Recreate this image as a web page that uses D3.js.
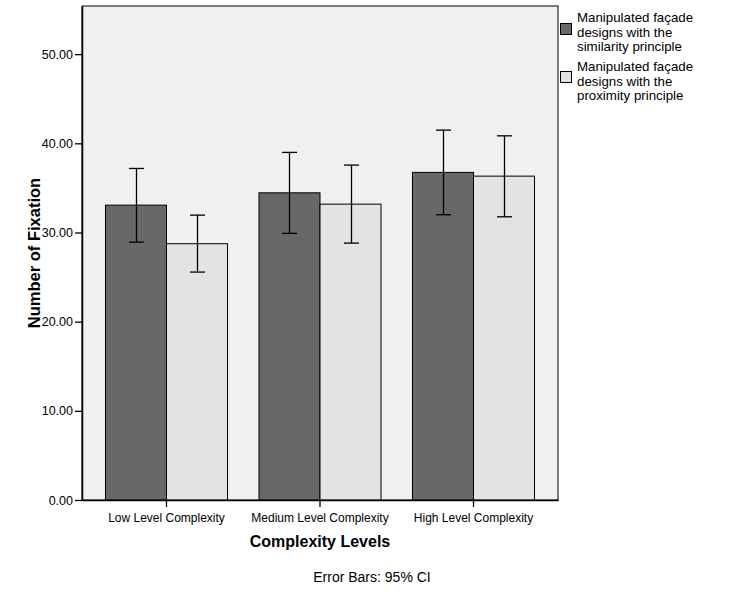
<!DOCTYPE html>
<html>
<head>
<meta charset="utf-8">
<script src="https://cdn.jsdelivr.net/npm/d3@7"></script>
<style>
body{margin:0;background:#fff;}
svg{display:block;font-family:Arial,"Liberation Sans",sans-serif;}
</style>
</head>
<body>
<script>
const categories = ["Low Level Complexity", "Medium Level Complexity", "High Level Complexity"];
const seriesNames = ["Manipulated façade designs with the similarity principle", "Manipulated façade designs with the proximity principle"];
const similarityMeans = [33.07, 34.45, 36.74];
const similarityLow = [28.92, 29.90, 31.99];
const similarityHigh = [37.18, 38.98, 41.48];
const proximityMeans = [28.74, 33.18, 36.32];
const proximityLow = [25.56, 28.81, 31.76];
const proximityHigh = [31.95, 37.56, 40.84];
const yTicks = [0, 10, 20, 30, 40, 50];
const legendLines = [["Manipulated façade", "designs with the", "similarity principle"], ["Manipulated façade", "designs with the", "proximity principle"]];
const colors = ["#686868", "#e3e3e3"];

const W = 746, H = 597;
const svg = d3.select("body").append("svg").attr("width", W).attr("height", H);
const L = 82, R = 558, T = 6, B = 500;

const y = d3.scaleLinear().domain([0, 55.4]).range([B, T]);
const x0 = d3.scaleBand().domain(categories).range([L, R]).paddingInner(0.205).paddingOuter(0.153);
const x1 = d3.scaleBand().domain([0, 1]).range([0, x0.bandwidth()]);

svg.append("rect").attr("x", L).attr("y", T).attr("width", R - L).attr("height", B - T)
  .attr("fill", "#f0f0f0").attr("stroke", "#000").attr("stroke-width", 1);

const series = [
  {mean: similarityMeans, lo: similarityLow, hi: similarityHigh},
  {mean: proximityMeans, lo: proximityLow, hi: proximityHigh}
];

const g = svg.append("g");
series.forEach((s, si) => {
  categories.forEach((c, ci) => {
    const bx = x0(c) + x1(si);
    g.append("rect").attr("x", bx).attr("y", y(s.mean[ci])).attr("width", x1.bandwidth())
      .attr("height", y(0) - y(s.mean[ci])).attr("fill", colors[si]).attr("stroke", "#000").attr("stroke-width", 1);
  });
});
series.forEach((s, si) => {
  categories.forEach((c, ci) => {
    const cx = Math.round(x0(c) + x1(si) + x1.bandwidth() / 2) + 0.5;
    const hw = 7.5;
    const eg = g.append("g").attr("stroke", "#000").attr("stroke-width", 1.3);
    eg.append("line").attr("x1", cx).attr("x2", cx).attr("y1", y(s.lo[ci])).attr("y2", y(s.hi[ci]));
    eg.append("line").attr("x1", cx - hw).attr("x2", cx + hw).attr("y1", y(s.lo[ci])).attr("y2", y(s.lo[ci]));
    eg.append("line").attr("x1", cx - hw).attr("x2", cx + hw).attr("y1", y(s.hi[ci])).attr("y2", y(s.hi[ci]));
  });
});

// Y axis
const yAxis = d3.axisLeft(y).tickValues(yTicks).tickFormat(d3.format(".2f")).tickSize(7).tickSizeOuter(0).tickPadding(2);
const ya = svg.append("g").attr("transform", `translate(${L},0)`).call(yAxis);
ya.select(".domain").attr("stroke", "#000").attr("stroke-width", 1.5);
ya.selectAll(".tick line").attr("stroke", "#000").attr("stroke-width", 1.3);
ya.selectAll(".tick text").attr("font-size", 12.5).attr("fill", "#000").attr("font-family", "Arial, 'Liberation Sans', sans-serif");

// X axis
const xAxis = d3.axisBottom(x0).tickSize(7).tickPadding(6).tickSizeOuter(0);
const xa = svg.append("g").attr("transform", `translate(0,${B})`).call(xAxis);
xa.select(".domain").attr("stroke", "#000").attr("stroke-width", 1.5);
xa.selectAll(".tick line").attr("stroke", "#000").attr("stroke-width", 1.3);
xa.selectAll(".tick text").attr("font-size", 12).attr("fill", "#000").attr("font-family", "Arial, 'Liberation Sans', sans-serif");

// Titles
svg.append("text").attr("transform", `translate(40,${(T + B) / 2}) rotate(-90)`).attr("text-anchor", "middle")
  .attr("font-size", 16.5).attr("font-weight", "bold").text("Number of Fixation");
svg.append("text").attr("x", x0(categories[1]) + x0.bandwidth() / 2).attr("y", 547).attr("text-anchor", "middle")
  .attr("font-size", 16).attr("font-weight", "bold").text("Complexity Levels");
svg.append("text").attr("x", 372).attr("y", 582).attr("text-anchor", "middle")
  .attr("font-size", 14).text("Error Bars: 95% CI");

// Legend
legendLines.forEach((lines, i) => {
  const top = 23 + i * 48;
  svg.append("rect").attr("x", 560.5).attr("y", top + 0.5).attr("width", 11).attr("height", 11)
    .attr("fill", colors[i]).attr("stroke", "#000").attr("stroke-width", 1);
  const t = svg.append("text").attr("font-size", 13.3).attr("fill", "#000");
  lines.forEach((ln, j) => {
    t.append("tspan").attr("x", 577).attr("y", 22 + i * 49 + j * 14.5).text(ln);
  });
});
</script>
</body>
</html>
